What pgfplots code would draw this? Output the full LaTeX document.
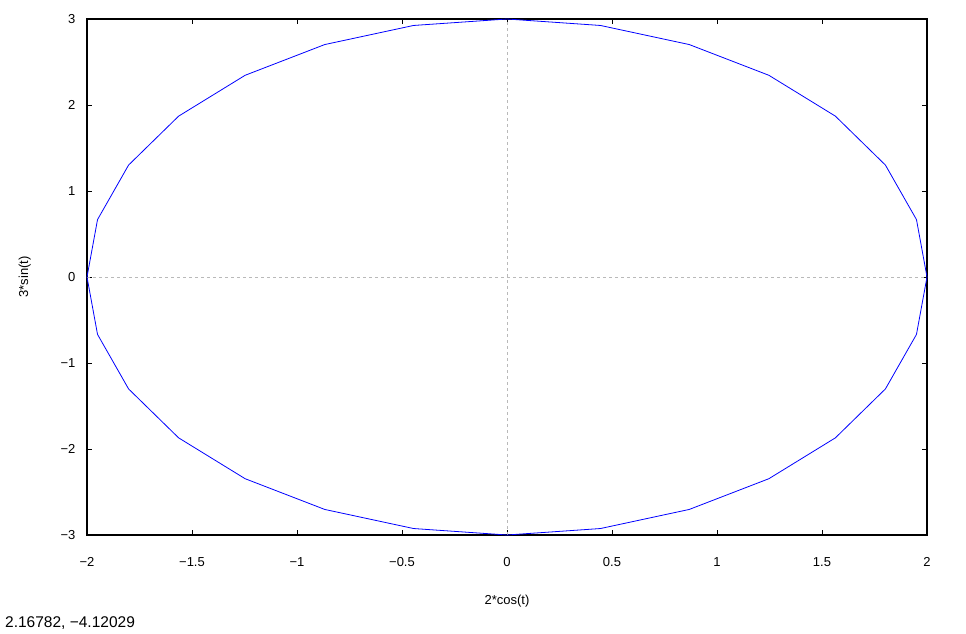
\documentclass[border=0pt]{standalone}
\usepackage{pgfplots}
\pgfplotsset{compat=1.18}
\usepackage{fontspec}
\setmainfont{Liberation Sans}
\begin{document}
\begin{tikzpicture}[x=1pt,y=1pt]
\path[use as bounding box] (0,0) rectangle (966,634);
\begin{axis}[
  at={(87pt,99pt)}, anchor=south west,
  scale only axis, width=840pt, height=516pt,
  xmin=-2, xmax=2, ymin=-3, ymax=3,
  xtick={-2,-1.5,-1,-0.5,0,0.5,1,1.5,2},
  xticklabels={−2,−1.5,−1,−0.5,0,0.5,1,1.5,2},
  ytick={-3,-2,-1,0,1,2,3},
  yticklabels={−3,−2,−1,0,1,2,3},
  tick align=inside, major tick length=5pt,
  tick style={black, line width=0.8pt},
  axis line style={black, line width=1.2pt},
  ticklabel style={font=\fontsize{13}{15}\selectfont},
  xticklabel style={yshift=-19pt},
  yticklabel style={xshift=-8pt},
  xlabel={2*cos(t)}, ylabel={3*sin(t)},
  label style={font=\fontsize{13}{15}\selectfont},
  xlabel style={yshift=-21pt},
  ylabel style={yshift=23pt},
  clip=false,
]
\draw[gray!55, dash pattern=on 3pt off 3pt, line width=0.6pt] (axis cs:0,-3) -- (axis cs:0,3);
\draw[gray!55, dash pattern=on 3pt off 3pt, line width=0.6pt] (axis cs:-2,0) -- (axis cs:2,0);
\addplot[blue, line width=0.8pt, mark=none] coordinates {
(2,0) (1.94986,0.66756) (1.80194,1.30165) (1.56366,1.87047) (1.24698,2.34549)
(0.86777,2.70291) (0.44504,2.92478) (0,3) (-0.44504,2.92478) (-0.86777,2.70291)
(-1.24698,2.34549) (-1.56366,1.87047) (-1.80194,1.30165) (-1.94986,0.66756) (-2,0)
(-1.94986,-0.66756) (-1.80194,-1.30165) (-1.56366,-1.87047) (-1.24698,-2.34549)
(-0.86777,-2.70291) (-0.44504,-2.92478) (0,-3) (0.44504,-2.92478) (0.86777,-2.70291)
(1.24698,-2.34549) (1.56366,-1.87047) (1.80194,-1.30165) (1.94986,-0.66756) (2,0)
};
\end{axis}
\node[anchor=west, font=\fontsize{15.5}{18}\selectfont, inner sep=0pt] at (5,11) {2.16782, −4.12029};
\end{tikzpicture}
\end{document}
